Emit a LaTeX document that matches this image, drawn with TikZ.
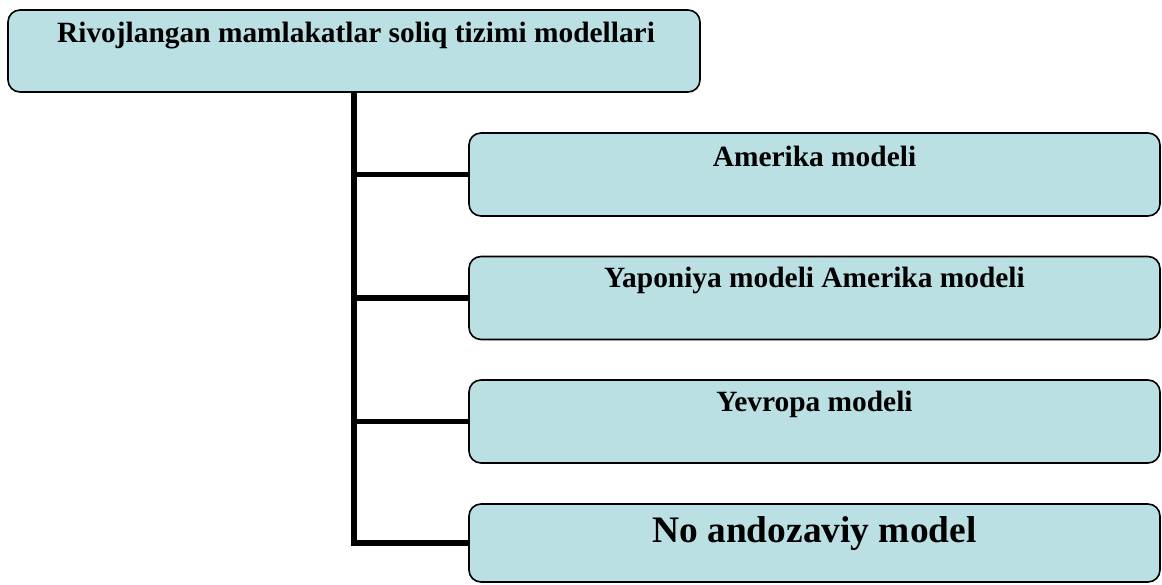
\documentclass[tikz,border=0pt]{standalone}
\usepackage{fontspec}
\setmainfont{Liberation Serif}
\usetikzlibrary{backgrounds}
\definecolor{boxfill}{HTML}{BBE0E3}
\tikzset{
  modelbox/.style={draw=black, line width=1.6pt, fill=boxfill, rounded corners=12pt,
    inner sep=0pt, minimum width=691pt, minimum height=83pt},
  boxtext/.style={anchor=base, inner sep=0pt, font=\bfseries\fontsize{29.4}{32}\selectfont},
  bigtext/.style={anchor=base, inner sep=0pt, font=\bfseries\fontsize{37.4}{40}\selectfont},
  trunk/.style={line width=5.5pt, line join=miter, draw=black}
}
\begin{document}
\begin{tikzpicture}[x=1pt,y=1pt]
  \useasboundingbox (0,0) rectangle (1162,-585);

  % root and the four model boxes
  \node[modelbox, minimum width=692pt, minimum height=82pt] (root) at (354,-51) {};
  \node[boxtext] (troot) at ([xshift=2pt,yshift=-33pt]root.north) {Rivojlangan mamlakatlar soliq tizimi modellari};

  \node[modelbox] (b1) at (814.5,-174.5) {};
  \node[boxtext] (t1) at ([yshift=-34pt]b1.north) {Amerika modeli};

  \node[modelbox] (b2) at (814.5,-298) {};
  \node[boxtext] (t2) at ([yshift=-32pt]b2.north) {Yaponiya modeli Amerika modeli};

  \node[modelbox] (b3) at (814.5,-421.5) {};
  \node[boxtext] (t3) at ([yshift=-32pt]b3.north) {Yevropa modeli};

  \node[modelbox, minimum height=78pt] (b4) at (814.5,-543) {};
  \node[bigtext] (t4) at ([yshift=-39pt]b4.north) {No andozaviy model};

  % tree connectors behind the boxes
  \begin{scope}[on background layer]
    \draw[trunk] (root.south) |- (b4.west);
    \draw[trunk] (root.south |- b1.west) -- (b1.west);
    \draw[trunk] (root.south |- b2.west) -- (b2.west);
    \draw[trunk] (root.south |- b3.west) -- (b3.west);
  \end{scope}
\end{tikzpicture}
\end{document}
